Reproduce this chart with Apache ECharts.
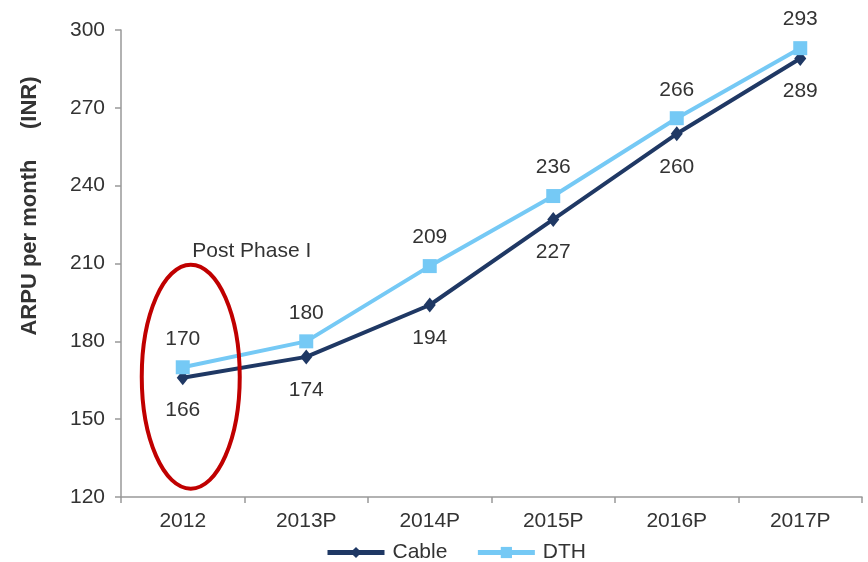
<!DOCTYPE html>
<html><head><meta charset="utf-8">
<script src="https://cdn.jsdelivr.net/npm/echarts@6/dist/echarts.min.js"></script>
<style>html,body{margin:0;padding:0;background:#fff}#c{width:868px;height:562px}</style>
</head><body><div id="c"></div>
<script>
const categories = ['2012','2013P','2014P','2015P','2016P','2017P'];
const cable = [166,174,194,227,260,289];
const dth = [170,180,209,236,266,293];
const yTitle = 'ARPU per month     (INR)';
const note = 'Post Phase I';

const chart = echarts.init(document.getElementById('c'));
const font = 'Arial, "Liberation Sans", sans-serif';
const fs = 21;
const option = {
  animation:false,
  grid:{left:121,right:6,top:30,bottom:65},
  legend:{top:542,left:325,padding:0,itemWidth:57,itemHeight:14,itemGap:28,
    lineStyle:{width:5},
    textStyle:{fontFamily:font,fontSize:fs,color:'#333',padding:[0,0,0,3]},
    data:['Cable','DTH']},
  xAxis:{type:'category',data:categories,boundaryGap:true,
    axisLine:{lineStyle:{color:'#999',width:1.5}},
    axisTick:{show:true,alignWithLabel:false,length:6,lineStyle:{color:'#999',width:1.5}},
    axisLabel:{fontFamily:font,fontSize:fs,color:'#333',margin:14}},
  yAxis:{type:'value',min:120,max:300,interval:30,
    axisLine:{show:true,lineStyle:{color:'#999',width:1.5}},
    axisTick:{show:true,length:6,lineStyle:{color:'#999',width:1.5}},
    splitLine:{show:false},
    axisLabel:{fontFamily:font,fontSize:fs,color:'#333',margin:16}},
  series:[
    {name:'Cable',type:'line',data:cable,symbol:'diamond',symbolSize:[12,15],
     itemStyle:{color:'#1f3864'},lineStyle:{width:4,color:'#1f3864'},
     label:{show:true,position:'bottom',distance:15,fontFamily:font,fontSize:fs,color:'#333'},z:2},
    {name:'DTH',type:'line',data:dth,symbol:'rect',symbolSize:14,
     itemStyle:{color:'#75c9f5'},lineStyle:{width:4,color:'#75c9f5'},
     label:{show:true,position:'top',distance:11,fontFamily:font,fontSize:fs,color:'#333'},z:3}
  ]
};
chart.setOption(option);
const c = chart.convertToPixel({xAxisIndex:0,yAxisIndex:0},[0,166]);
chart.setOption({graphic:[
  {type:'ellipse',shape:{cx:c[0]+8,cy:c[1]-1,rx:49,ry:112},style:{fill:'none',stroke:'#c00000',lineWidth:4},z:10},
  {type:'text',x:c[0]+69,y:c[1]-126,style:{text:note,fontFamily:font,fontSize:fs,fill:'#333',align:'center',verticalAlign:'middle'},z:10},
  {type:'text',x:30,y:206,rotation:Math.PI/2,style:{text:yTitle,fontFamily:font,fontSize:22,fontWeight:'bold',fill:'#333',align:'center',verticalAlign:'middle'},z:10}
]});
</script></body></html>
